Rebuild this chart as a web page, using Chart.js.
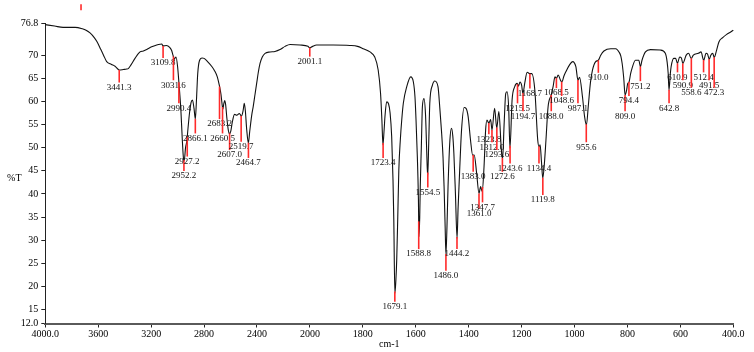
<!DOCTYPE html>
<html><head><meta charset="utf-8">
<script src="https://cdn.jsdelivr.net/npm/chart.js@4.4.1/dist/chart.umd.min.js"></script>
<style>html,body{margin:0;padding:0;background:#fff;}#wrap{width:754px;height:352px;}</style>
</head><body><div id="wrap"><canvas id="c" width="754" height="352"></canvas></div>
<script>
// ---------------- data ----------------
const wavenumbers = [4000,3930,3866,3775,3720,3692,3662,3630,3609,3580,3560,3536,3500,3473,3441,3410,3385,3373,3350,3322,3284,3259,3230,3196,3158,3145,3120,3110,3085,3060,3045,3035,3025,3012,3000,2990,2975,2965,2955,2950,2940,2930,2922,2910,2898,2888,2876,2866,2858,2848,2835,2815,2800,2770,2740,2720,2700,2685,2672,2665,2658,2651,2644,2637,2628,2618,2609,2598,2588,2570,2553,2533,2518,2505,2496,2488,2478,2465,2455,2440,2428,2415,2402,2390,2377,2360,2339,2301,2264,2226,2188,2150,2075,2015,2001,1990,1975,1912,1849,1820,1799,1773,1755,1742,1733,1728,1724,1720,1716,1710,1703,1697,1691,1686,1683,1679,1675,1672,1668,1664,1658,1653,1647,1634,1619,1609,1603,1599,1594,1590,1588,1585,1583,1579,1575,1569,1563,1559,1555,1551,1547,1537,1528,1516,1509,1503,1497,1493,1489,1486,1482,1478,1471,1465,1460,1456,1450,1444,1440,1434,1427,1417,1410,1402,1393,1385,1379,1370,1361,1355,1349,1342,1336,1331,1324,1317,1312,1302,1294,1286,1277,1272,1266,1260,1255,1249,1244,1236,1226,1217,1212,1206,1200,1195,1188,1179,1169,1162,1150,1139,1134,1130,1125,1120,1114,1108,1100,1088,1081,1074,1068,1062,1053,1048,1040,1033,1020,1007,995,987,981,970,962,955,948,940,932,920,910,901,889,863,844,832,825,820,814,809,803,799,794,788,783,770,757,751,745,732,713,676,657,650,646,643,638,635,625,618,611,603,596,591,578,569,559,551,532,522,512,503,497,491,485,478,472,463,454,440,425,410,400];
const transmittance = [76.6,76.3,76.0,76.0,75.7,75.4,74.8,73.8,72.9,71.2,70.0,68.6,68.0,67.6,66.8,66.9,67.0,67.1,68.0,69.3,70.7,70.9,71.3,71.8,72.2,72.3,72.4,72.0,72.1,71.7,71.0,70.0,69.2,69.6,67.5,64.0,58.0,52.0,47.5,47.2,50.0,51.5,54.0,57.5,59.8,60.3,58.5,56.2,60.0,66.0,68.8,69.4,69.3,68.5,67.5,66.6,65.3,63.5,61.5,59.7,58.3,59.5,60.2,59.3,56.5,54.0,53.0,53.6,55.3,57.2,57.0,57.4,56.8,58.0,59.6,58.0,54.0,51.0,53.5,57.0,59.0,61.5,64.0,66.3,68.2,69.6,70.4,70.7,70.8,71.2,71.9,72.3,72.2,71.9,71.6,71.9,72.2,72.2,72.1,71.9,71.4,70.7,69.6,66.8,61.7,56.0,50.6,53.5,57.0,59.9,59.5,57.5,52.4,43.0,34.4,18.5,21.5,25.7,35.0,45.2,52.0,56.0,59.6,63.2,65.3,64.2,61.0,56.0,48.0,39.0,30.8,35.0,41.6,50.0,58.8,60.6,57.0,50.0,43.7,51.0,59.6,63.5,64.4,63.2,58.5,53.8,48.0,41.6,33.0,27.0,33.0,41.6,51.6,54.2,52.5,48.8,40.0,30.4,37.0,45.2,53.8,58.7,58.5,56.7,51.6,48.4,48.4,44.5,40.1,41.6,40.5,45.9,53.8,56.0,55.3,56.1,53.8,58.5,54.2,57.8,50.0,47.5,55.2,61.7,62.1,58.8,49.9,60.3,63.2,63.9,63.3,64.2,63.5,61.7,64.0,66.3,66.0,66.0,62.4,51.6,50.2,50.6,47.0,43.4,46.5,51.6,58.8,61.4,63.2,65.3,65.0,65.7,64.6,64.2,65.5,66.4,67.8,68.6,67.5,64.6,65.2,61.0,56.7,54.9,59.0,64.0,66.8,68.6,68.9,70.0,70.9,71.4,71.4,70.7,69.8,68.2,65.0,61.4,62.5,63.9,64.2,66.0,67.1,68.9,68.9,67.5,68.9,70.7,71.2,71.1,70.4,68.5,66.0,62.4,66.0,67.5,69.3,69.3,68.2,69.6,69.4,68.2,70.0,70.4,69.3,70.0,70.4,70.7,68.9,70.4,70.2,69.1,70.0,70.4,69.5,71.1,72.9,73.8,74.5,75.0,75.4];

const peakWavenumbers = [3441.3,3109.8,3031.6,2990.4,2952.2,2927.2,2866.1,2683.2,2660.5,2607.0,2519.7,2464.7,2001.1,1723.4,1679.1,1588.8,1554.5,1486.0,1444.2,1383.0,1361.0,1347.7,1323.8,1312.0,1293.6,1272.6,1243.6,1215.5,1194.7,1168.7,1134.4,1119.8,1088.0,1068.5,1048.6,987.1,955.6,910.0,809.0,794.4,751.2,642.8,610.9,590.9,558.6,512.4,491.5,472.3];
// %T level at which each peak label is written
const peakLabelLevels = [63.0,68.3,63.5,58.5,43.9,47.0,52.0,55.1,52.0,48.4,50.2,46.7,68.6,46.7,15.6,27.0,40.3,22.3,27.0,43.7,35.7,37.1,51.8,50.1,48.4,43.7,45.5,58.5,56.8,61.7,45.5,38.7,56.8,61.8,60.1,58.5,50.1,65.1,56.8,60.1,63.3,58.5,65.2,63.5,61.9,65.2,63.5,61.9];
// small off-scale marker above the plot
const offScaleMarker = {wavenumber: 3730, from: 81.0, to: 79.7};

const xTickValues = [4000,3600,3200,2800,2400,2000,1800,1600,1400,1200,1000,800,600,400];
const yTickValues = [12,15,20,25,30,35,40,45,50,55,60,65,70,76.8];
const X_MAX = 4000, X_BREAK = 2000, X_MIN = 400, STEP_HIGH = 400, STEP_LOW = 200;
const Y_MIN = 12, Y_MAX = 76.8;

// ------------- piecewise IR axis (2x expansion below 2000 cm-1) -------------
const U_TOTAL = (X_MAX - X_BREAK) / STEP_HIGH + (X_BREAK - X_MIN) / STEP_LOW;
class IrScale extends Chart.LinearScale {
  getPixelForValue(v) {
    const u = v >= X_BREAK ? (X_MAX - v) / STEP_HIGH : (X_MAX - X_BREAK) / STEP_HIGH + (X_BREAK - v) / STEP_LOW;
    return this.getPixelForDecimal(u / U_TOTAL);
  }
  getValueForPixel(p) {
    const u = this.getDecimalForPixel(p) * U_TOTAL;
    const uBreak = (X_MAX - X_BREAK) / STEP_HIGH;
    return u <= uBreak ? X_MAX - u * STEP_HIGH : X_BREAK - (u - uBreak) * STEP_LOW;
  }
}
IrScale.id = 'irscale';
IrScale.defaults = {};
Chart.register(IrScale);

function curveAt(w) {
  for (let i = 0; i < wavenumbers.length - 1; i++) {
    const a = wavenumbers[i], b = wavenumbers[i + 1];
    if (w <= a && w >= b) {
      const t = (a - w) / (a - b);
      return transmittance[i] + t * (transmittance[i + 1] - transmittance[i]);
    }
  }
  return transmittance[transmittance.length - 1];
}

const FONT = '"Liberation Serif", "Times New Roman", serif';

const peakPlugin = {
  id: 'peaks',
  afterDatasetsDraw(chart) {
    const ctx = chart.ctx, xs = chart.scales.x, ys = chart.scales.y;
    ctx.save();
    ctx.font = '9px ' + FONT;
    ctx.textAlign = 'center';
    ctx.textBaseline = 'middle';
    peakWavenumbers.forEach((w, i) => {
      const px = xs.getPixelForValue(w);
      const yc = ys.getPixelForValue(curveAt(w));
      const yl = ys.getPixelForValue(peakLabelLevels[i]);
      ctx.strokeStyle = '#ff2a2a';
      ctx.lineWidth = 1.6;
      ctx.beginPath();
      ctx.moveTo(px, yc);
      ctx.lineTo(px, yl - 5);
      ctx.stroke();
      ctx.fillStyle = '#111';
      ctx.fillText(w.toFixed(1), px, yl);
    });
    // off-scale red mark
    const mx = xs.getPixelForValue(offScaleMarker.wavenumber);
    ctx.strokeStyle = '#ff2a2a';
    ctx.lineWidth = 1.6;
    ctx.beginPath();
    ctx.moveTo(mx, ys.getPixelForValue(offScaleMarker.from));
    ctx.lineTo(mx, ys.getPixelForValue(offScaleMarker.to));
    ctx.stroke();
    // axis titles
    const ca = chart.chartArea;
    ctx.font = '10px ' + FONT;
    ctx.fillStyle = '#000';
    ctx.fillText('%T', ca.left - 31, (ca.top + ca.bottom) / 2 + 5);
    ctx.fillText('cm-1', (ca.left + ca.right) / 2, chart.height - 8);
    ctx.restore();
  }
};

const points = wavenumbers.map((w, i) => ({x: w, y: transmittance[i]}));

new Chart(document.getElementById('c'), {
  type: 'line',
  data: {datasets: [{
    data: points,
    borderColor: '#111',
    borderWidth: 1.1,
    pointRadius: 0,
    fill: false,
    cubicInterpolationMode: 'monotone',
    clip: false
  }]},
  options: {
    responsive: false,
    animation: false,
    devicePixelRatio: 1,
    layout: {padding: {top: 23.7, right: 20.7, left: 0, bottom: 0}},
    plugins: {legend: {display: false}, tooltip: {enabled: false}},
    scales: {
      x: {
        type: 'irscale',
        min: X_MIN, max: X_MAX,
        afterBuildTicks: s => { s.ticks = xTickValues.map(v => ({value: v})); },
        afterFit: s => { s.height = 28.5; },
        border: {display: true, color: '#5a5a5a', width: 2},
        grid: {display: true, drawOnChartArea: false, drawTicks: true, tickLength: 4, color: '#222'},
        ticks: {
          autoSkip: false, maxRotation: 0, minRotation: 0, padding: 1,
          color: '#000', font: {family: FONT, size: 10},
          callback: v => (v === X_MAX || v === X_MIN) ? v.toFixed(1) : String(v)
        }
      },
      y: {
        type: 'linear',
        min: Y_MIN, max: Y_MAX,
        afterBuildTicks: s => { s.ticks = yTickValues.map(v => ({value: v})); },
        afterFit: s => { s.width = 45.3; },
        border: {display: true, color: '#222', width: 1},
        grid: {display: true, drawOnChartArea: false, drawTicks: true, tickLength: 4, color: '#222'},
        ticks: {
          autoSkip: false, padding: 3,
          color: '#000', font: {family: FONT, size: 10},
          callback: v => (v === Y_MIN || v === Y_MAX) ? v.toFixed(1) : String(v)
        }
      }
    }
  },
  plugins: [peakPlugin]
});
</script></body></html>
